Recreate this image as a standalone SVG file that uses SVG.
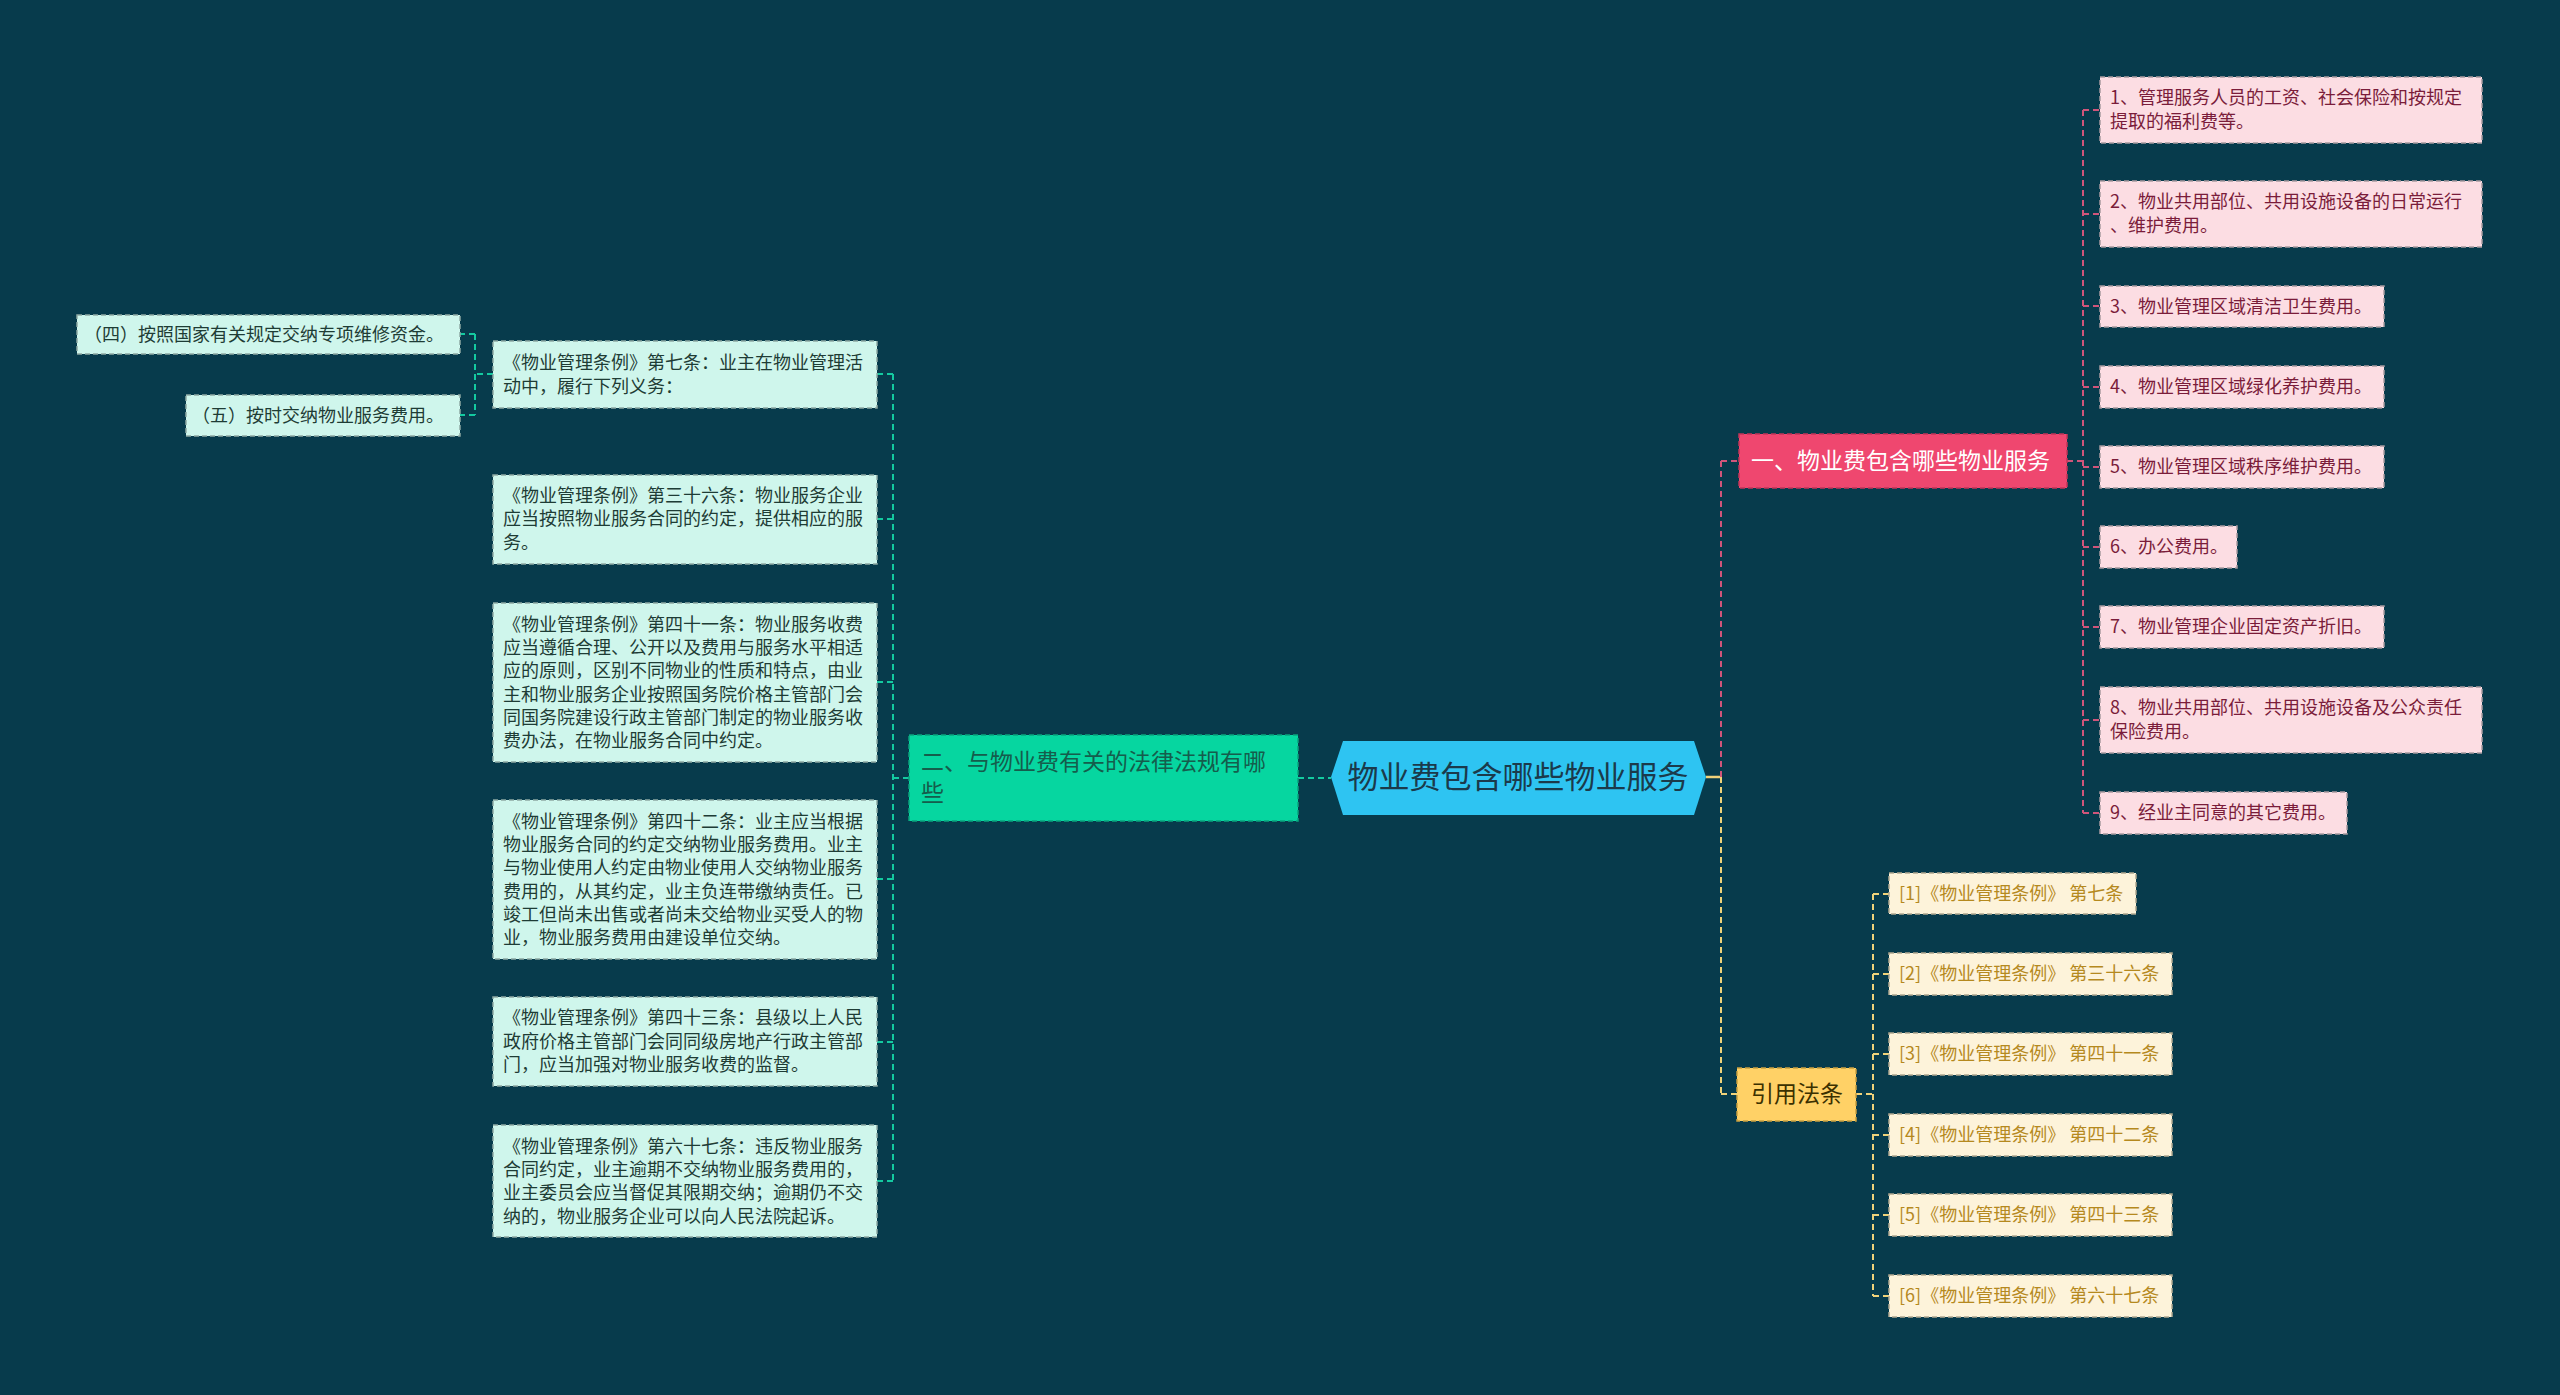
<svg xmlns="http://www.w3.org/2000/svg" width="2560" height="1395" viewBox="0 0 2560 1395">
<style>
text{font-family:"Noto Sans CJK SC","Noto Sans",sans-serif;}
.leafT rect{fill:#cff6ec;stroke:#8fa9a3;stroke-width:1.5;stroke-dasharray:5 3;}
.leafT text{fill:#1e3c35;font-size:18px;}
.leafP rect{fill:#fcdde3;stroke:#a89aa0;stroke-width:1.5;stroke-dasharray:5 3;}
.leafP text{fill:#7a1c3a;font-size:18px;}
.leafY rect{fill:#fdf3da;stroke:#b0a890;stroke-width:1.5;stroke-dasharray:5 3;}
.leafY text{fill:#b5891e;font-size:18px;}
.ct{stroke-width:2;fill:none;stroke-dasharray:6 4;}
.cT{stroke:#14c9a0;}
.cP{stroke:#d0557a;}
.cY{stroke:#f0d27a;}
</style>
<rect width="2560" height="1395" fill="#073b4c"/>
<g id="connectors">
  <!-- center to green -->
  <line class="ct cT" x1="1298" y1="778" x2="1331" y2="778"/>
  <!-- green to children -->
  <line class="ct cT" x1="909" y1="778" x2="893" y2="778"/>
  <line class="ct cT" x1="893" y1="374" x2="893" y2="1181"/>
  <line class="ct cT" x1="893" y1="374" x2="877" y2="374"/>
  <line class="ct cT" x1="893" y1="519" x2="877" y2="519"/>
  <line class="ct cT" x1="893" y1="682" x2="877" y2="682"/>
  <line class="ct cT" x1="893" y1="879" x2="877" y2="879"/>
  <line class="ct cT" x1="893" y1="1042" x2="877" y2="1042"/>
  <line class="ct cT" x1="893" y1="1181" x2="877" y2="1181"/>
  <!-- article 7 to sub -->
  <line class="ct cT" x1="493" y1="374" x2="475" y2="374"/>
  <line class="ct cT" x1="475" y1="334" x2="475" y2="415"/>
  <line class="ct cT" x1="475" y1="334" x2="460" y2="334"/>
  <line class="ct cT" x1="475" y1="415" x2="460" y2="415"/>
  <!-- center right -->
  <line x1="1706" y1="777" x2="1721" y2="777" stroke="#f0d27a" stroke-width="2.5"/>
  <line class="ct cP" x1="1721" y1="777" x2="1721" y2="461"/>
  <line class="ct cP" x1="1721" y1="461" x2="1739" y2="461"/>
  <line class="ct cY" x1="1721" y1="777" x2="1721" y2="1094"/>
  <line class="ct cY" x1="1721" y1="1094" x2="1737" y2="1094"/>
  <!-- red children -->
  <line class="ct cP" x1="2067" y1="461" x2="2083" y2="461"/>
  <line class="ct cP" x1="2083" y1="110" x2="2083" y2="813"/>
  <line class="ct cP" x1="2083" y1="110" x2="2100" y2="110"/>
  <line class="ct cP" x1="2083" y1="214" x2="2100" y2="214"/>
  <line class="ct cP" x1="2083" y1="306" x2="2100" y2="306"/>
  <line class="ct cP" x1="2083" y1="387" x2="2100" y2="387"/>
  <line class="ct cP" x1="2083" y1="467" x2="2100" y2="467"/>
  <line class="ct cP" x1="2083" y1="547" x2="2100" y2="547"/>
  <line class="ct cP" x1="2083" y1="627" x2="2100" y2="627"/>
  <line class="ct cP" x1="2083" y1="720" x2="2100" y2="720"/>
  <line class="ct cP" x1="2083" y1="813" x2="2100" y2="813"/>
  <!-- yellow children -->
  <line class="ct cY" x1="1856" y1="1094" x2="1873" y2="1094"/>
  <line class="ct cY" x1="1873" y1="894" x2="1873" y2="1296"/>
  <line class="ct cY" x1="1873" y1="894" x2="1889" y2="894"/>
  <line class="ct cY" x1="1873" y1="974" x2="1889" y2="974"/>
  <line class="ct cY" x1="1873" y1="1054" x2="1889" y2="1054"/>
  <line class="ct cY" x1="1873" y1="1135" x2="1889" y2="1135"/>
  <line class="ct cY" x1="1873" y1="1215" x2="1889" y2="1215"/>
  <line class="ct cY" x1="1873" y1="1296" x2="1889" y2="1296"/>
</g>

<g id="center">
  <polygon points="1331,777 1343,741 1694,741 1706,777 1694,815 1343,815" fill="#2ec4f2"/>
  <text x="1518" y="788" font-size="31" text-anchor="middle" fill="#1b3a4b">物业费包含哪些物业服务</text>
</g>

<g id="branch-law">
  <rect x="909" y="735" width="389" height="86" fill="#06d6a0" stroke="#0aa37c" stroke-width="1.5" stroke-dasharray="5 3"/>
  <text x="921" y="770" font-size="23" fill="#155d4c">二、与物业费有关的法律法规有哪</text>
  <text x="921" y="801" font-size="23" fill="#155d4c">些</text>
</g>

<g id="branch-services">
  <rect x="1739" y="434" width="328" height="54" fill="#ef476f" stroke="#c23558" stroke-width="1.5" stroke-dasharray="5 3"/>
  <text x="1751" y="469" font-size="23" fill="#ffffff">一、物业费包含哪些物业服务</text>
</g>

<g id="branch-cite">
  <rect x="1737" y="1068" width="119" height="53" fill="#ffd166" stroke="#c9a040" stroke-width="1.5" stroke-dasharray="5 3"/>
  <text x="1797" y="1102" font-size="23" text-anchor="middle" fill="#3b3000">引用法条</text>
</g>

<!-- left leaves -->
<g id="law-7" class="leafT">
  <rect x="493" y="341" width="384" height="67"/>
  <text x="503" y="369">《物业管理条例》第七条：业主在物业管理活</text>
  <text x="503" y="393">动中，履行下列义务：</text>
</g>
<g id="duty-4" class="leafT">
  <rect x="77" y="315" width="383" height="39"/>
  <text x="444" y="341" text-anchor="end">（四）按照国家有关规定交纳专项维修资金。</text>
</g>
<g id="duty-5" class="leafT">
  <rect x="186" y="395" width="274" height="41"/>
  <text x="444" y="422" text-anchor="end">（五）按时交纳物业服务费用。</text>
</g>
<g id="law-36" class="leafT">
  <rect x="493" y="475" width="384" height="89"/>
  <text x="503" y="502">《物业管理条例》第三十六条：物业服务企业</text>
  <text x="503" y="525">应当按照物业服务合同的约定，提供相应的服</text>
  <text x="503" y="549">务。</text>
</g>
<g id="law-41" class="leafT">
  <rect x="493" y="603" width="384" height="159"/>
  <text x="503" y="631">《物业管理条例》第四十一条：物业服务收费</text>
  <text x="503" y="654">应当遵循合理、公开以及费用与服务水平相适</text>
  <text x="503" y="677">应的原则，区别不同物业的性质和特点，由业</text>
  <text x="503" y="701">主和物业服务企业按照国务院价格主管部门会</text>
  <text x="503" y="724">同国务院建设行政主管部门制定的物业服务收</text>
  <text x="503" y="747">费办法，在物业服务合同中约定。</text>
</g>
<g id="law-42" class="leafT">
  <rect x="493" y="800" width="384" height="159"/>
  <text x="503" y="828">《物业管理条例》第四十二条：业主应当根据</text>
  <text x="503" y="851">物业服务合同的约定交纳物业服务费用。业主</text>
  <text x="503" y="874">与物业使用人约定由物业使用人交纳物业服务</text>
  <text x="503" y="898">费用的，从其约定，业主负连带缴纳责任。已</text>
  <text x="503" y="921">竣工但尚未出售或者尚未交给物业买受人的物</text>
  <text x="503" y="944">业，物业服务费用由建设单位交纳。</text>
</g>
<g id="law-43" class="leafT">
  <rect x="493" y="997" width="384" height="89"/>
  <text x="503" y="1024">《物业管理条例》第四十三条：县级以上人民</text>
  <text x="503" y="1048">政府价格主管部门会同同级房地产行政主管部</text>
  <text x="503" y="1071">门，应当加强对物业服务收费的监督。</text>
</g>
<g id="law-67" class="leafT">
  <rect x="493" y="1125" width="384" height="112"/>
  <text x="503" y="1153">《物业管理条例》第六十七条：违反物业服务</text>
  <text x="503" y="1176">合同约定，业主逾期不交纳物业服务费用的，</text>
  <text x="503" y="1199">业主委员会应当督促其限期交纳；逾期仍不交</text>
  <text x="503" y="1223">纳的，物业服务企业可以向人民法院起诉。</text>
</g>

<!-- right pink leaves -->
<g id="svc-1" class="leafP">
  <rect x="2100" y="77" width="382" height="66"/>
  <text x="2110" y="104">1、管理服务人员的工资、社会保险和按规定</text>
  <text x="2110" y="128">提取的福利费等。</text>
</g>
<g id="svc-2" class="leafP">
  <rect x="2100" y="181" width="382" height="66"/>
  <text x="2110" y="208">2、物业共用部位、共用设施设备的日常运行</text>
  <text x="2110" y="232">、维护费用。</text>
</g>
<g id="svc-3" class="leafP">
  <rect x="2100" y="286" width="284" height="41"/>
  <text x="2110" y="313">3、物业管理区域清洁卫生费用。</text>
</g>
<g id="svc-4" class="leafP">
  <rect x="2100" y="366" width="284" height="42"/>
  <text x="2110" y="393">4、物业管理区域绿化养护费用。</text>
</g>
<g id="svc-5" class="leafP">
  <rect x="2100" y="446" width="284" height="42"/>
  <text x="2110" y="473">5、物业管理区域秩序维护费用。</text>
</g>
<g id="svc-6" class="leafP">
  <rect x="2100" y="526" width="137" height="42"/>
  <text x="2110" y="553">6、办公费用。</text>
</g>
<g id="svc-7" class="leafP">
  <rect x="2100" y="606" width="284" height="42"/>
  <text x="2110" y="633">7、物业管理企业固定资产折旧。</text>
</g>
<g id="svc-8" class="leafP">
  <rect x="2100" y="687" width="382" height="66"/>
  <text x="2110" y="714">8、物业共用部位、共用设施设备及公众责任</text>
  <text x="2110" y="738">保险费用。</text>
</g>
<g id="svc-9" class="leafP">
  <rect x="2100" y="792" width="247" height="42"/>
  <text x="2110" y="819">9、经业主同意的其它费用。</text>
</g>

<!-- yellow leaves -->
<g id="cite-1" class="leafY">
  <rect x="1889" y="873" width="247" height="41"/>
  <text x="1899" y="900">[1]《物业管理条例》 第七条</text>
</g>
<g id="cite-2" class="leafY">
  <rect x="1889" y="953" width="283" height="42"/>
  <text x="1899" y="980">[2]《物业管理条例》 第三十六条</text>
</g>
<g id="cite-3" class="leafY">
  <rect x="1889" y="1033" width="283" height="42"/>
  <text x="1899" y="1060">[3]《物业管理条例》 第四十一条</text>
</g>
<g id="cite-4" class="leafY">
  <rect x="1889" y="1114" width="283" height="42"/>
  <text x="1899" y="1141">[4]《物业管理条例》 第四十二条</text>
</g>
<g id="cite-5" class="leafY">
  <rect x="1889" y="1194" width="283" height="42"/>
  <text x="1899" y="1221">[5]《物业管理条例》 第四十三条</text>
</g>
<g id="cite-6" class="leafY">
  <rect x="1889" y="1275" width="283" height="42"/>
  <text x="1899" y="1302">[6]《物业管理条例》 第六十七条</text>
</g>
</svg>
